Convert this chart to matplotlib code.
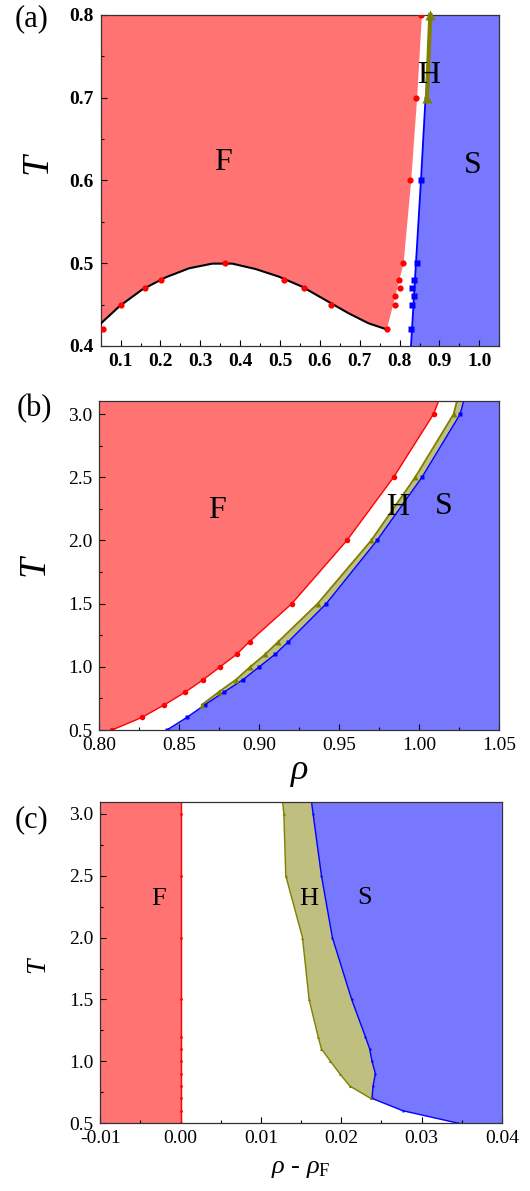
import matplotlib
matplotlib.use("Agg")
import matplotlib.pyplot as plt
from matplotlib.ticker import MultipleLocator, FormatStrFormatter

plt.rcParams['font.family'] = ['Liberation Serif', 'DejaVu Serif']
plt.rcParams['mathtext.fontset'] = 'custom'
plt.rcParams['mathtext.rm'] = 'Liberation Serif'
plt.rcParams['mathtext.it'] = 'Liberation Serif:italic'

RED_FILL = '#ff7373'
BLUE_FILL = '#7878ff'
OLIVE_FILL = '#bfbf7f'

# ---------------- panel (a) ----------------
# black curve
a_curve_rho = [0.050, 0.097, 0.155, 0.2135, 0.272, 0.330, 0.380, 0.4385, 0.4968, 0.555, 0.6135, 0.672, 0.722, 0.768]
a_curve_T = [0.427, 0.448, 0.4685, 0.483, 0.4939, 0.4995, 0.4995, 0.493, 0.4838, 0.4717, 0.4556, 0.4395, 0.4274, 0.420]
# red points on the curve
a_red_rho = [0.056, 0.102, 0.160, 0.202, 0.362, 0.510, 0.560, 0.627, 0.768]
a_red_T = [0.42, 0.45, 0.47, 0.48, 0.50, 0.48, 0.47, 0.45, 0.42]
# red points at the fluid boundary
a_fb_rho = [0.7875, 0.789, 0.800, 0.7985, 0.8075, 0.827, 0.841, 0.8525]
a_fb_T = [0.45, 0.46, 0.47, 0.48, 0.50, 0.60, 0.70, 0.80]
# edge of the red fluid region
a_edge_rho = [0.768, 0.810, 0.829, 0.844, 0.856]
a_edge_T = [0.42, 0.50, 0.60, 0.70, 0.80]
# blue solid points and line
a_blue_rho = [0.829, 0.831, 0.837, 0.831, 0.837, 0.8435, 0.854]
a_blue_T = [0.42, 0.45, 0.46, 0.47, 0.48, 0.50, 0.60]
a_bline_rho = [0.8285, 0.841, 0.8535, 0.865]
a_bline_T = [0.40, 0.50, 0.60, 0.70]
# hexatic (olive) points
a_hex_rho = [0.8685, 0.877]
a_hex_T = [0.70, 0.80]

# ---------------- panel (b) ----------------
b_red_rho = [0.808, 0.8267, 0.8408, 0.8538, 0.8652, 0.8756, 0.886, 0.894, 0.9204, 0.9548, 0.984, 1.009]
b_red_T = [0.5, 0.6, 0.7, 0.8, 0.9, 1.0, 1.1, 1.2, 1.5, 2.0, 2.5, 3.0]
b_red_top = 1.012
b_hex_rho = [0.8642, 0.8746, 0.8856, 0.8944, 0.9038, 0.912, 0.9365, 0.970, 0.9975, 1.0215]
b_hex_T = [0.7, 0.8, 0.9, 1.0, 1.1, 1.2, 1.5, 2.0, 2.5, 3.0]
b_hex_top = 1.0235
b_blue_rho = [0.8423, 0.8548, 0.866, 0.878, 0.890, 0.900, 0.910, 0.9183, 0.9419, 0.9736, 1.0017, 1.0256]
b_blue_T = [0.5, 0.6, 0.7, 0.8, 0.9, 1.0, 1.1, 1.2, 1.5, 2.0, 2.5, 3.0]
b_blue_top = 1.0277

# ---------------- panel (c) ----------------
c_T = [0.5, 0.6, 0.7, 0.8, 0.9, 1.0, 1.1, 1.2, 1.5, 2.0, 2.5, 3.0]
c_red_drho = [0.0] * len(c_T)
c_hex_T = [0.7, 0.8, 0.9, 1.0, 1.1, 1.2, 1.5, 2.0, 2.5, 3.0]
c_hex_drho = [0.02366, 0.02106, 0.01981, 0.01866, 0.01754, 0.01712, 0.0160, 0.01518, 0.0131, 0.01286]
c_hex_top = 0.0127
c_blue_drho = [0.0345, 0.02768, 0.02383, 0.02396, 0.02425, 0.02383, 0.02354, 0.0230, 0.0213, 0.0189, 0.01754, 0.0165]
c_blue_top = 0.0163

TOP = 3.1


def style_axes(ax, xmaj, xmin, ymaj, ymin, xfmt, yfmt, fs=14, weight='normal'):
    ax.xaxis.set_major_locator(MultipleLocator(xmaj))
    ax.xaxis.set_minor_locator(MultipleLocator(xmin))
    ax.yaxis.set_major_locator(MultipleLocator(ymaj))
    ax.yaxis.set_minor_locator(MultipleLocator(ymin))
    ax.xaxis.set_major_formatter(FormatStrFormatter(xfmt))
    ax.yaxis.set_major_formatter(FormatStrFormatter(yfmt))
    ax.tick_params(which='both', direction='in', top=False, right=False, labelsize=fs)
    ax.tick_params(which='major', length=4, width=0.8, pad=5)
    ax.tick_params(which='minor', length=2.5, width=0.8)
    for lab in ax.get_xticklabels() + ax.get_yticklabels():
        lab.set_fontweight(weight)
    for s in ax.spines.values():
        s.set_linewidth(0.9)
        s.set_color('#333333')


fig = plt.figure(figsize=(5.30, 11.91), dpi=100)

# ---- (a) ----
axa = fig.add_axes([0.190, 0.7095, 0.752, 0.278])
poly_x = a_curve_rho + a_edge_rho + [a_curve_rho[0]]
poly_y = a_curve_T + a_edge_T + [0.8]
axa.fill(poly_x, poly_y, color=RED_FILL, lw=0)
bpx = a_bline_rho + a_hex_rho + [1.05, 1.05]
bpy = a_bline_T + a_hex_T + [0.8, 0.4]
axa.fill(bpx, bpy, color=BLUE_FILL, lw=0)
axa.plot(a_curve_rho, a_curve_T, color='black', lw=1.5, zorder=3)
axa.plot(a_red_rho, a_red_T, 'o', color='red', ms=4.5, mec='none', zorder=4)
axa.plot(a_fb_rho, a_fb_T, 'o', color='red', ms=4.5, mec='none', zorder=4)
axa.plot(a_bline_rho, a_bline_T, color='blue', lw=1.3, zorder=3)
axa.plot(a_blue_rho, a_blue_T, 's', color='blue', ms=3.8, mec='none', zorder=4)
axa.plot(a_hex_rho, a_hex_T, '^-', color='#808000', lw=3, ms=7, mec='none', zorder=5, clip_on=False)
axa.set_xlim(0.05, 1.05)
axa.set_ylim(0.4, 0.8)
style_axes(axa, 0.1, 0.05, 0.1, 0.05, '%.1f', '%.1f', fs=14, weight='bold')
axa.set_ylabel('T', fontsize=27, style='italic')
axa.yaxis.set_label_coords(-0.115, 0.55)
axa.text(0.356, 0.622, 'F', fontsize=23, ha='center', va='center')
axa.text(0.874, 0.727, 'H', fontsize=23, ha='center', va='center', zorder=6)
axa.text(0.9825, 0.618, 'S', fontsize=23, ha='center', va='center')
fig.text(32 / 530, 1 - 19 / 1191, '(a)', fontsize=22, ha='center', va='center')

# ---- (b) ----
axb = fig.add_axes([0.187, 0.387, 0.755, 0.276])
axb.fill([0.80] + b_red_rho + [b_red_top, 0.80], [0.5] + b_red_T + [TOP, TOP], color=RED_FILL, lw=0)
axb.fill(b_blue_rho + [b_blue_top, 1.05, 1.05], b_blue_T + [TOP, TOP, 0.5], color=BLUE_FILL, lw=0)
hx = b_hex_rho + [b_hex_top, b_blue_top] + b_blue_rho[:1:-1]
hy = b_hex_T + [TOP, TOP] + b_blue_T[:1:-1]
axb.fill(hx, hy, color=OLIVE_FILL, lw=0)
axb.plot(b_red_rho + [b_red_top], b_red_T + [TOP], color='red', lw=1)
axb.plot(b_red_rho, b_red_T, 'o', color='red', ms=4, mec='none')
axb.plot(b_blue_rho + [b_blue_top], b_blue_T + [TOP], color='blue', lw=1)
axb.plot(b_blue_rho, b_blue_T, 's', color='blue', ms=3.2, mec='none')
axb.plot(b_hex_rho + [b_hex_top], b_hex_T + [TOP], color='#808000', lw=1.3)
axb.plot(b_hex_rho, b_hex_T, '^', color='#808000', ms=5, mec='none')
axb.set_xlim(0.80, 1.05)
axb.set_ylim(0.5, TOP)
style_axes(axb, 0.05, 0.025, 0.5, 0.25, '%.2f', '%.1f', fs=14)
axb.set_ylabel('T', fontsize=27, style='italic')
axb.yaxis.set_label_coords(-0.12, 0.5)
axb.set_xlabel('ρ', fontsize=26, style='italic', labelpad=0)
axb.text(0.8735, 2.236, 'F', fontsize=23, ha='center', va='center')
axb.text(0.9865, 2.262, 'H', fontsize=23, ha='center', va='center')
axb.text(1.0152, 2.27, 'S', fontsize=23, ha='center', va='center')
fig.text(34 / 530, 1 - 409 / 1191, '(b)', fontsize=22, ha='center', va='center')

# ---- (c) ----
axc = fig.add_axes([0.189, 0.057, 0.758, 0.270])
axc.fill([-0.01, 0.0, 0.0, -0.01], [0.5, 0.5, TOP, TOP], color=RED_FILL, lw=0)
axc.fill(c_blue_drho + [c_blue_top, 0.04, 0.04], c_T + [TOP, TOP, 0.5], color=BLUE_FILL, lw=0)
hx = c_hex_drho + [c_hex_top, c_blue_top] + c_blue_drho[:1:-1]
hy = c_hex_T + [TOP, TOP] + c_T[:1:-1]
axc.fill(hx, hy, color=OLIVE_FILL, lw=0)
axc.plot(c_red_drho + [0.0], c_T + [TOP], color='red', lw=1)
axc.plot(c_red_drho, c_T, 'o', color='red', ms=2, mec='none')
axc.plot(c_blue_drho + [c_blue_top], c_T + [TOP], color='blue', lw=1)
axc.plot(c_blue_drho, c_T, 's', color='blue', ms=2, mec='none')
axc.plot(c_hex_drho + [c_hex_top], c_hex_T + [TOP], color='#808000', lw=1)
axc.plot(c_hex_drho, c_hex_T, '^', color='#808000', ms=2.2, mec='none')
axc.set_xlim(-0.01, 0.04)
axc.set_ylim(0.5, TOP)
style_axes(axc, 0.01, 0.005, 0.5, 0.25, '%.2f', '%.1f', fs=14)
axc.set_ylabel('T', fontsize=20, style='italic')
axc.yaxis.set_label_coords(-0.125, 0.49)
axc.set_xlabel(r'$\rho$ - $\rho_{\rm F}$', fontsize=19, labelpad=8)
axc.text(-0.00276, 2.314, 'F', fontsize=19, ha='center', va='center')
axc.text(0.01596, 2.31, 'H', fontsize=19, ha='center', va='center')
axc.text(0.0229, 2.32, 'S', fontsize=19, ha='center', va='center')
fig.text(32 / 530, 1 - 820 / 1191, '(c)', fontsize=22, ha='center', va='center')

fig.savefig('out.png', dpi=100)
